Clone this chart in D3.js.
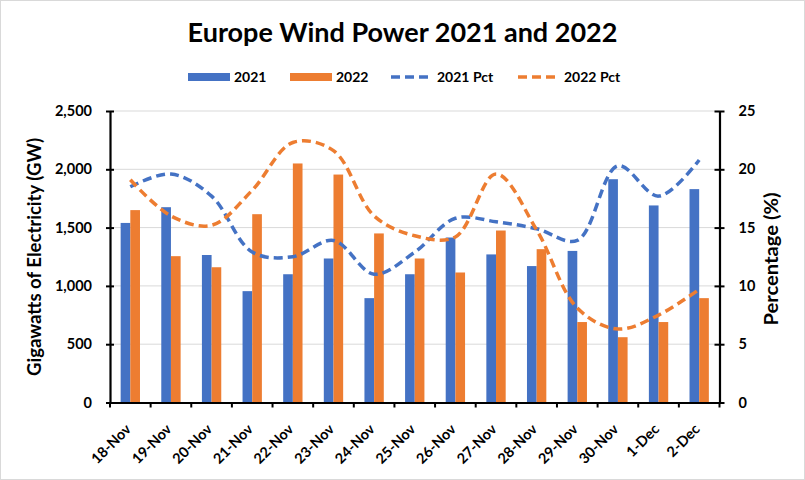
<!DOCTYPE html>
<html><head><meta charset="utf-8">
<script src="https://cdn.jsdelivr.net/npm/d3@7"></script>
<style>body{margin:0;background:#fff}svg{display:block}text{font-family:Lato,"Open Sans",sans-serif}</style>
</head><body>
<svg id="c" width="805" height="480"></svg>
<script>
const categories = ["18-Nov","19-Nov","20-Nov","21-Nov","22-Nov","23-Nov","24-Nov","25-Nov","26-Nov","27-Nov","28-Nov","29-Nov","30-Nov","1-Dec","2-Dec"];
const gw2021 = [1540,1675,1265,955,1100,1235,895,1100,1415,1270,1170,1300,1915,1690,1830];
const gw2022 = [1650,1255,1160,1615,2050,1955,1450,1235,1115,1475,1315,690,560,690,895];
const pct2021 = [18.5,19.6,17.7,12.9,12.5,13.9,11.0,12.9,15.8,15.5,14.9,13.9,20.3,17.7,20.8];
const pct2022 = [19.1,16.0,15.2,18.2,22.3,21.6,16.0,14.3,14.2,19.6,14.8,8.1,6.3,7.5,9.7];
const leftTicks = [0,500,1000,1500,2000,2500];
const rightTicks = [0,5,10,15,20,25];
const seriesNames = ["2021","2022","2021 Pct","2022 Pct"];
const colors = ["#4472C4","#ED7D31"];

const svg = d3.select("#c");
const L = 110, R = 719.5, T = 111, B = 402.5;

svg.append("rect").attr("x",0.5).attr("y",0.5).attr("width",804).attr("height",479)
  .attr("fill","#fff").attr("stroke","#d9d9d9");

const x = d3.scaleBand().domain(categories).range([L,R]).paddingInner(0).paddingOuter(0);
const yL = d3.scaleLinear().domain([0,2500]).range([B,T]);
const yR = d3.scaleLinear().domain([0,25]).range([B,T]);

// gridlines
svg.append("g").selectAll("line").data(leftTicks.slice(1)).join("line")
  .attr("x1",L).attr("x2",R).attr("y1",d=>yL(d)).attr("y2",d=>yL(d))
  .attr("stroke","#d9d9d9").attr("stroke-width",1);

// bars
const bw = x.bandwidth()*0.238;
const g = svg.append("g");
[gw2021,gw2022].forEach((arr,si)=>{
  g.selectAll(null).data(arr).join("rect")
    .attr("x",(d,i)=>x(categories[i])+x.bandwidth()/2 + (si===0?-bw:0))
    .attr("width",bw)
    .attr("y",d=>yL(d)).attr("height",d=>B-yL(d))
    .attr("fill",colors[si]);
});

// lines
const line = d3.line().x((d,i)=>x(categories[i])+x.bandwidth()/2).y(d=>yR(d)).curve(d3.curveCatmullRom.alpha(0.5));
[pct2021,pct2022].forEach((arr,si)=>{
  svg.append("path").attr("d",line(arr)).attr("fill","none")
    .attr("stroke",colors[si]).attr("stroke-width",3.5).attr("stroke-dasharray","9,5");
});

// axes
const axL = d3.axisLeft(yL).tickValues(leftTicks).tickFormat(d3.format(",")).tickSizeInner(4).tickSizeOuter(0).tickPadding(14);
const gL = svg.append("g").attr("transform",`translate(${L},0)`).call(axL);
const axR = d3.axisRight(yR).tickValues(rightTicks).tickSizeInner(5).tickSizeOuter(0).tickPadding(14);
const gR = svg.append("g").attr("transform",`translate(${R},0)`).call(axR);
const axB = d3.axisBottom(x).tickSize(0).tickFormat("");
const gB = svg.append("g").attr("transform",`translate(0,${B})`).call(axB);
[gL,gR,gB].forEach(gg=>{
  gg.select(".domain").attr("stroke","#000").attr("stroke-width",2.2);
  gg.selectAll(".tick line").attr("stroke","#000").attr("stroke-width",2);
  gg.selectAll(".tick text").attr("fill","#000").attr("font-size",14.5).attr("font-weight","bold")
    .style("font-family","Lato, sans-serif");
});
// cross ticks
gL.selectAll(".tick line").attr("x1",4);
gR.selectAll(".tick line").attr("x1",-5);
// category ticks
const catEdges = categories.map(c=>x(c)).concat([R]);
svg.append("g").selectAll("line").data(catEdges).join("line")
  .attr("x1",d=>d).attr("x2",d=>d).attr("y1",B).attr("y2",B+5)
  .attr("stroke","#000").attr("stroke-width",2);
// category labels
svg.append("g").selectAll("text").data(categories).join("text")
  .attr("transform",d=>`translate(${x(d)+x.bandwidth()/2-2},${B+24}) rotate(-45)`)
  .attr("text-anchor","end").attr("font-size",14.5).attr("font-weight","bold")
  .attr("dy","0.35em").text(d=>d);

// title
svg.append("text").attr("x",402.5).attr("y",42).attr("text-anchor","middle")
  .attr("font-size",27).attr("font-weight","bold").text("Europe Wind Power 2021 and 2022");

// axis titles
svg.append("text").attr("transform","translate(41,257) rotate(-90)").attr("text-anchor","middle")
  .attr("font-size",18).attr("font-weight","bold")
  .attr("textLength",238).attr("lengthAdjust","spacingAndGlyphs")
  .text("Gigawatts of Electricity (GW)");
svg.append("text").attr("transform","translate(778,259) rotate(-90)").attr("text-anchor","middle")
  .attr("font-size",18).attr("font-weight","bold")
  .attr("textLength",133).attr("lengthAdjust","spacingAndGlyphs")
  .text("Percentage (%)");

// legend
const leg = svg.append("g");
const legX = [188,290,391,518];
seriesNames.forEach((n,i)=>{
  const gx = legX[i];
  if(i<2){
    leg.append("rect").attr("x",gx).attr("y",73).attr("width",42).attr("height",8).attr("fill",colors[i]);
  } else {
    leg.append("line").attr("x1",gx).attr("x2",gx+42).attr("y1",77).attr("y2",77)
      .attr("stroke",colors[i-2]).attr("stroke-width",3.5).attr("stroke-dasharray","9,5");
  }
  leg.append("text").attr("x",gx+46).attr("y",77).attr("dy","0.35em")
    .attr("font-size",14).attr("font-weight","bold").text(n);
});
</script>
</body></html>
